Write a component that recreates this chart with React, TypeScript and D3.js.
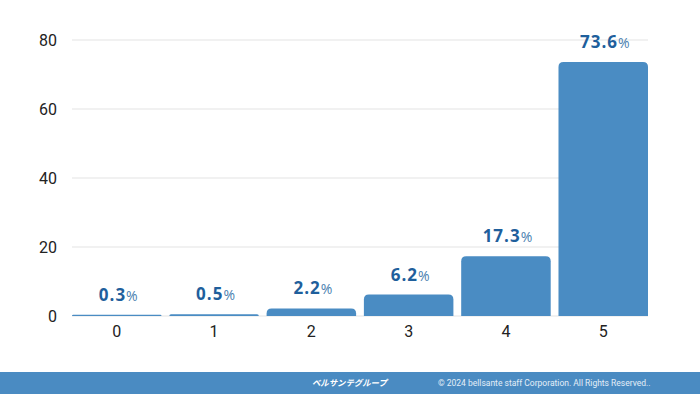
import React from "react";
import * as d3 from "d3";

const categories = ["0", "1", "2", "3", "4", "5"];
const values = [0.3, 0.5, 2.2, 6.2, 17.3, 73.6];
const yTicks = [0, 20, 40, 60, 80];

const W = 700;
const H = 394;
const M = { left: 72, right: 52, top: 40, bottom: 78 };

export default function App() {
  const x = d3
    .scaleBand<string>()
    .domain(categories)
    .range([M.left, W - M.right])
    .paddingInner(0.08)
    .paddingOuter(0.0);
  const y = d3.scaleLinear().domain([0, 80]).range([H - M.bottom, M.top]);
  const r = 5;

  const barPath = (cx: number, w: number, top: number, base: number) => {
    const h = base - top;
    const rr = Math.min(r, h, w / 2);
    return `M${cx},${base} L${cx},${top + rr} Q${cx},${top} ${cx + rr},${top} L${cx + w - rr},${top} Q${cx + w},${top} ${cx + w},${top + rr} L${cx + w},${base} Z`;
  };

  return (
    <svg
      width={W}
      height={H}
      style={{ position: "absolute", left: 0, top: 0, background: "#fff" }}
      fontFamily="Roboto, 'Noto Sans', sans-serif"
    >
      {yTicks.map((t) => (
        <g key={t}>
          <line x1={M.left} x2={W - M.right} y1={y(t)} y2={y(t)} stroke="#e3e3e3" strokeWidth={1.2} />
          <text x={57} y={y(t)} dy="0.35em" textAnchor="end" fontSize={16} fill="#222">
            {t}
          </text>
        </g>
      ))}
      {categories.map((c, i) => {
        const bx = x(c)!;
        const bw = x.bandwidth();
        const top = y(values[i]);
        const base = y(0);
        return (
          <g key={c}>
            <path d={barPath(bx, bw, Math.min(top, base - 1.2), base)} fill="#4a8cc3" />
            <text
              x={bx + bw / 2 + 2}
              y={Math.min(top, base - 1) - 14}
              textAnchor="middle"
              fill="#1f5f9c"
              fontSize={17}
              fontWeight={700}
              letterSpacing={1}
              fontFamily="'Open Sans', Roboto, sans-serif"
            >
              {values[i].toFixed(1)}
              <tspan fontWeight={400} fontSize={14} fill="#4a7fb0">%</tspan>
            </text>
            <text x={bx + bw / 2} y={y(0) + 21} textAnchor="middle" fontSize={16} fill="#222">
              {c}
            </text>
          </g>
        );
      })}
      <rect x={0} y={372} width={W} height={22} fill="#4a8bc2" />
      <text x={312} y={383} dy="0.35em" fontSize={8.4} fontWeight={700} fill="#fff" fontStyle="italic" fontFamily="'Noto Sans CJK JP', sans-serif">
        ベルサンテグループ
      </text>
      <text x={438} y={383} dy="0.35em" fontSize={8.5} fill="#e4eef8">
        © 2024 bellsante staff Corporation. All Rights Reserved..
      </text>
    </svg>
  );
}
